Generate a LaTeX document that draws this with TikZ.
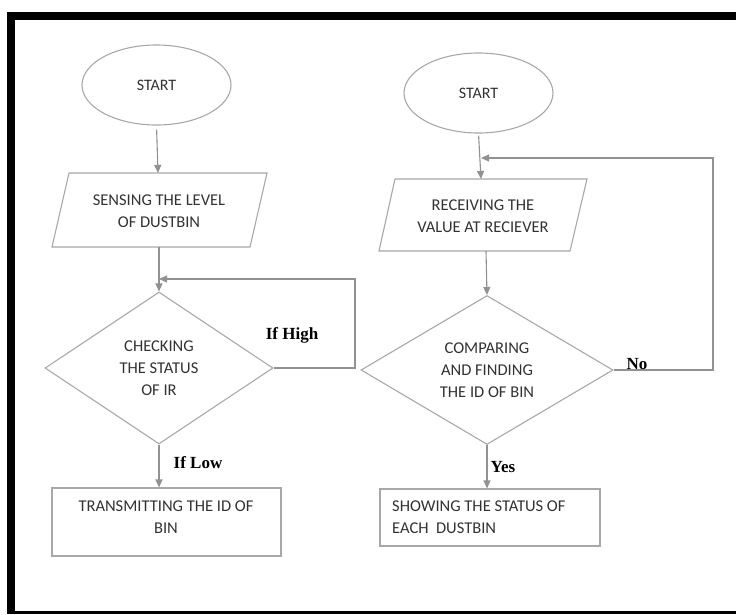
\documentclass[tikz,border=0pt]{standalone}
\usepackage{fontspec}
\setmainfont{Carlito}
\newfontfamily\labfont{Liberation Serif}
\usetikzlibrary{shapes.geometric,arrows.meta}
\definecolor{shapegray}{RGB}{168,168,168}
\definecolor{arrgray}{RGB}{145,145,145}
\definecolor{txtgray}{RGB}{50,50,50}
\begin{document}
\begin{tikzpicture}[x=1pt,y=-1pt,
  boxtext/.style={font=\fontsize{16.5}{22}\selectfont, text=txtgray, align=center, inner sep=0pt},
  startnode/.style={ellipse, draw=shapegray, line width=1.1pt, minimum width=149pt, minimum height=80pt, inner sep=0pt, font=\fontsize{16}{20}\selectfont, text=txtgray},
  decision/.style={diamond, draw=shapegray, line width=1.1pt, inner sep=0pt, font=\fontsize{16.5}{22}\selectfont, text=txtgray, align=center},
  procbox/.style={rectangle, draw=shapegray, line width=1.1pt, inner sep=0pt},
  ioshape/.style={draw=shapegray, line width=1.1pt},
  flow/.style={draw=arrgray, line width=1.1pt, -{Triangle[length=8pt,width=7pt]}},
  lab/.style={font={\labfont\bfseries\fontsize{17}{20}\selectfont}, text=black, inner sep=0pt},
]
\useasboundingbox (0,0) rectangle (736,614);
% frame
\fill[black] (7,12) rectangle (736,20);
\fill[black] (7,12) rectangle (15,614);
\fill[black] (7,611) rectangle (736,614);

% ---------- left flow ----------
\node[startnode] (s1) at (156.5,85) {START};
\draw[ioshape] (69,173) -- (267,173) -- (250,247) -- (52,247) -- cycle;
\node[boxtext] (p1) at (159,211) {SENSING THE LEVEL\\OF DUSTBIN};
\coordinate (p1t) at (158,173);
\coordinate (p1b) at (159,247);
\node[decision, minimum width=228pt, minimum height=152pt] (d1) at (159,368) {CHECKING\\THE STATUS\\OF IR};
\node[procbox, minimum width=229pt, minimum height=68pt] (b1) at (166.5,522) {};
\node[boxtext] (t1) at (166,517.5) {TRANSMITTING THE ID OF\\BIN};
\coordinate (h1a) at (355,368);
\coordinate (h1b) at (355,279);
\coordinate (h1c) at (159,279);

\draw[flow, shorten <=4pt] (s1.south) -- (p1t);
\draw[flow] (p1b) -- (d1.north);
\draw[flow] (d1.east) -- (h1a) -- (h1b) -- (h1c);
\draw[flow] (d1.south) -- (d1.south |- b1.north);
\node[lab] (lh) at (292,335) {If High};
\node[lab] (ll) at (198,463) {If Low};

% ---------- right flow ----------
\node[startnode] (s2) at (478.5,93) {START};
\draw[ioshape] (395,179) -- (587,179) -- (570,251) -- (379,251) -- cycle;
\node[boxtext] (p2) at (483,216) {RECEIVING THE\\VALUE AT RECIEVER};
\coordinate (p2t) at (481,179);
\coordinate (p2b) at (486,251);
\node[decision, minimum width=252pt, minimum height=146pt] (d2) at (487,370) {COMPARING\\AND FINDING\\THE ID OF BIN};
\node[procbox, minimum width=220pt, minimum height=57pt] (b2) at (490,517.5) {};
\node[boxtext, align=left, anchor=west] (t2) at (392,517) {SHOWING THE STATUS OF\\EACH\ \ DUSTBIN};
\coordinate (h2a) at (713,370);
\coordinate (h2b) at (713,158);
\coordinate (h2c) at (481,158);

\draw[flow, shorten <=2pt] (s2.south) -- (p2t);
\draw[flow] (p2b) -- (d2.north);
\draw[flow] (d2.east) -- (h2a) -- (h2b) -- (h2c);
\draw[flow] (d2.south) -- (d2.south |- b2.north);
\node[lab] (ln) at (637,364) {No};
\node[lab] (ly) at (503,467) {Yes};
\end{tikzpicture}
\end{document}
